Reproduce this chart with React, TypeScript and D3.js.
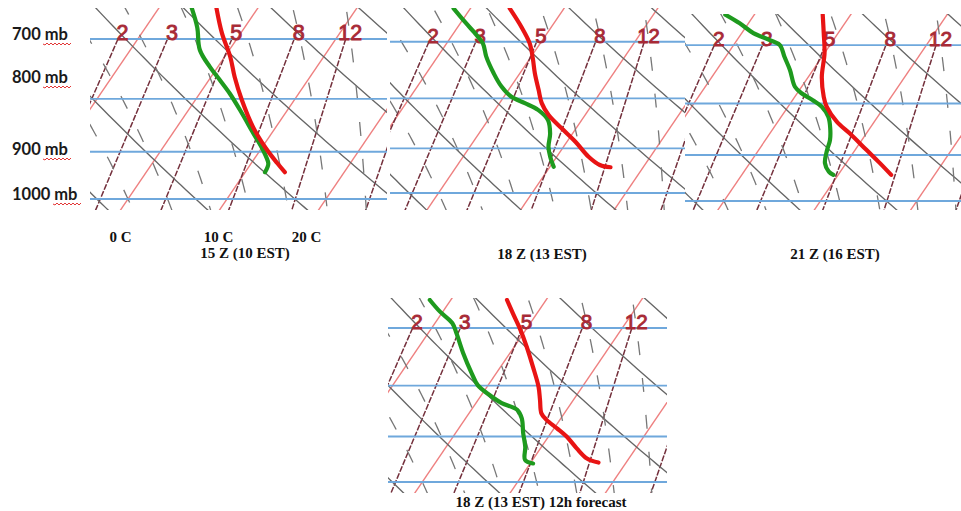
import React from "react";
import * as d3 from "d3";

// ---------- grid definitions (skew-T) ----------
const ISOBARS = [700, 800, 900, 1000];
const ISOTHERMS = [-50, -40, -30, -20, -10, 0, 10, 20, 30, 40, 50];
const DRY_THETA_K = [250, 260, 270, 280, 290, 300, 310, 320, 330, 340];
const MOIST_THETAW_C = [0, 4, 8, 12, 16, 20, 24, 28, 32, 36];
const MIX_LABELS = ["2", "3", "5", "8", "12", "20"];
const MIX_T700 = [-12.0, -7.0, -0.5, 5.8, 11.0, 19.0];
const MIX_T1000 = [-8.1, -2.8, 3.8, 10.6, 16.9, 24.4];
const MIX_SHOW = [true, true, true, true, true, false];

const P_LABELS = ["700 mb", "800 mb", "900 mb", "1000 mb"];
const T_LABELS = ["0 C", "10 C", "20 C"];
const T_LABEL_VALUES = [0, 10, 20];
const PANEL_TITLES = ["15 Z (10 EST)", "18 Z (13 EST)", "21 Z (16 EST)", "18 Z (13 EST) 12h forecast"];

// ---------- soundings (pressure mb, temperature C) ----------
const P1_T_P = [653, 691, 729, 762, 802, 852, 891, 923, 942];
const P1_T = [-4.2, -1.9, 0.6, 2.4, 4.7, 7.7, 10.3, 12.6, 14.0];
const P1_TD_P = [653, 682, 717, 745, 767, 790, 820, 863, 897, 923, 931, 942];
const P1_TD = [-6.7, -4.8, -3.0, -0.8, 1.1, 3.0, 5.2, 8.1, 10.3, 11.7, 11.9, 12.0];

const P2_T_P = [647, 676, 703, 728, 754, 784, 809, 832, 859, 886, 918, 936, 941];
const P2_T = [-5.8, -3.2, -1.1, 0.3, 1.6, 3.2, 4.5, 6.1, 8.5, 10.9, 13.4, 15.2, 16.5];
const P2_TD_P = [647, 668, 689, 703, 725, 754, 778, 797, 809, 822, 842, 869, 897, 918, 940];
const P2_TD = [-11.8, -9.6, -7.4, -6.1, -4.8, -2.8, -1.0, 0.8, 2.7, 4.6, 6.4, 7.6, 8.4, 9.3, 10.4];

const P3_T_P = [653, 681, 713, 753, 788, 806, 834, 857, 890, 917, 942];
const P3_T = [-2.9, -1.5, 0.0, 1.4, 3.0, 4.0, 6.1, 8.3, 11.2, 13.5, 15.5];
const P3_TD_P = [653, 666, 681, 692, 700, 719, 741, 770, 782, 794, 806, 825, 847, 870, 890, 917, 935, 942];
const P3_TD = [-13.0, -10.9, -8.8, -6.6, -5.2, -3.9, -2.4, -0.7, 0.5, 2.1, 3.5, 4.9, 5.9, 6.7, 7.1, 7.8, 8.8, 9.5];

const P4_T_P = [656, 677, 701, 731, 766, 802, 827, 853, 866, 883, 900, 925, 947, 956];
const P4_T = [-4.1, -2.5, -0.7, 1.3, 3.4, 5.4, 6.5, 7.6, 8.6, 10.3, 11.9, 13.8, 15.6, 17.1];
const P4_TD_P = [656, 674, 692, 709, 742, 777, 799, 818, 833, 846, 863, 893, 922, 950, 958];
const P4_TD = [-12.2, -10.3, -8.2, -7.0, -4.9, -2.6, -1.1, 0.9, 2.7, 4.8, 5.9, 7.1, 8.3, 9.2, 10.3];

// ---------- layout ----------
const SKEW = 0.68;
const PANELS = [
  { left: 90, top: 8, right: 387, bottom: 210, y1000: 199, y700: 39, x0: 128, s: 9.9, titleX: 245, titleY: 258 },
  { left: 390, top: 8, right: 685, bottom: 210, y1000: 193, y700: 41.8, x0: 438.5, s: 9.36, titleX: 542, titleY: 259 },
  { left: 685, top: 14, right: 961, bottom: 210, y1000: 201, y700: 45.1, x0: 724, s: 9.64, titleX: 835, titleY: 259 },
  { left: 388, top: 298, right: 667, bottom: 493, y1000: 482, y700: 328, x0: 422.3, s: 9.53, titleX: 541, titleY: 507 },
];
const SOUNDINGS = [
  { tp: P1_T_P, t: P1_T, dp: P1_TD_P, d: P1_TD },
  { tp: P2_T_P, t: P2_T, dp: P2_TD_P, d: P2_TD },
  { tp: P3_T_P, t: P3_T, dp: P3_TD_P, d: P3_TD },
  { tp: P4_T_P, t: P4_T, dp: P4_TD_P, d: P4_TD },
];
const P_LABEL_BASE = [40, 83, 155, 200];
const MB_UNDER = [[43, 70], [43, 70], [43, 70], [53, 80]];
const T_LABEL_DX = [0, -1, -12];

type Proj = (T: number, p: number) => [number, number];

function makeProj(pn: any): { proj: Proj; y: d3.ScaleLogarithmic<number, number> } {
  const y = d3.scaleLog().domain([1000, 700]).range([pn.y1000, pn.y700]);
  const x = d3.scaleLinear().domain([0, 10]).range([pn.x0, pn.x0 + 10 * pn.s]);
  const proj: Proj = (T, p) => {
    const yy = y(p);
    return [x(T) + SKEW * (pn.y1000 - yy), yy];
  };
  return { proj, y };
}

const P_SAMPLES = d3.range(560, 1121, 10);

function moistCurve(thetaW: number): [number, number][] {
  const Rd = 287.04, cp = 1005.7, Lv = 2.501e6, eps = 0.622;
  const f = (T: number, p: number) => {
    const es = 6.112 * Math.exp((17.67 * (T - 273.15)) / (T - 29.65));
    const rs = (eps * es) / (p - es);
    return (Rd * T + Lv * rs) / (p * (cp + (Lv * Lv * rs * eps) / (Rd * T * T)));
  };
  const integrate = (pEnd: number) => {
    const out: [number, number][] = [];
    let T = thetaW + 273.15;
    let p = 1000;
    const n = 60;
    const dp = (pEnd - 1000) / n;
    for (let i = 0; i <= n; i++) {
      out.push([T - 273.15, p]);
      const k1 = f(T, p);
      const k2 = f(T + k1 * dp, p + dp);
      T += (dp * (k1 + k2)) / 2;
      p += dp;
    }
    return out;
  };
  const up = integrate(560).reverse();
  const down = integrate(1120).slice(1);
  return up.concat(down);
}

function wavy(x1: number, x2: number, y: number) {
  let d = `M${x1},${y}`;
  let i = 0;
  for (let x = x1; x < x2; x += 2, i++) d += ` L${x + 2},${y + (i % 2 ? -1 : 1)}`;
  return d;
}

function Panel({ pn, idx }: { pn: any; idx: number }) {
  const { proj } = makeProj(pn);
  const line = d3.line<[number, number]>().x((d) => proj(d[0], d[1])[0]).y((d) => proj(d[0], d[1])[1]);
  const smooth = d3
    .line<[number, number]>()
    .x((d) => proj(d[0], d[1])[0])
    .y((d) => proj(d[0], d[1])[1])
    .curve(d3.curveCatmullRom.alpha(0.5));
  const k = pn.s / 9.9;
  const clipId = `clip${idx}`;
  const snd = SOUNDINGS[idx];
  const tData = snd.tp.map((p: number, i: number) => [snd.t[i], p] as [number, number]);
  const dData = snd.dp.map((p: number, i: number) => [snd.d[i], p] as [number, number]);

  const mixLine = (j: number) => {
    const ly = d3.scaleLinear().domain([Math.log(700), Math.log(1000)]).range([MIX_T700[j], MIX_T1000[j]]);
    return P_SAMPLES.filter((p) => p >= 700).map((p) => [ly(Math.log(p)), p] as [number, number]);
  };

  return (
    <g>
      <clipPath id={clipId}>
        <rect x={pn.left} y={pn.top} width={pn.right - pn.left} height={pn.bottom - pn.top} />
      </clipPath>
      <g clipPath={`url(#${clipId})`}>
        <rect x={pn.left} y={pn.top} width={pn.right - pn.left} height={pn.bottom - pn.top} fill="#ffffff" />
        {ISOTHERMS.map((T) => (
          <path key={"it" + T} d={line([[T, 560], [T, 1120]]) || ""} stroke="#ee8080" strokeWidth={1.4} fill="none" />
        ))}
        {MIX_LABELS.map((w, j) => (
          <path key={"mx" + w} d={line(mixLine(j)) || ""} stroke="#74303c" strokeWidth={1.5} strokeDasharray="6,1.5" fill="none" />
        ))}
        {DRY_THETA_K.map((th) => (
          <path
            key={"da" + th}
            d={line(P_SAMPLES.map((p) => [th * Math.pow(p / 1000, 0.2857) - 273.15, p] as [number, number])) || ""}
            stroke="#666666"
            strokeWidth={1.35}
            fill="none"
          />
        ))}
        {MOIST_THETAW_C.map((tw) => (
          <path key={"ma" + tw} d={line(moistCurve(tw)) || ""} stroke="#777777" strokeWidth={1.3} strokeDasharray="14,23" fill="none" />
        ))}
        {ISOBARS.map((p) => {
          const yy = proj(0, p)[1];
          return <line key={"ib" + p} x1={pn.left} x2={pn.right} y1={yy} y2={yy} stroke="#6fa8dc" strokeWidth={1.9} />;
        })}
        {MIX_LABELS.map((w, j) =>
          MIX_SHOW[j] ? (
            <text
              key={"ml" + w}
              x={proj(MIX_T700[j], 700)[0] + 4.5 * k}
              y={pn.y700 + 1}
              textAnchor="middle"
              fontFamily="Liberation Sans, Arial, sans-serif"
              fontSize={21.5 * k}
              fill="#a82a36"
              stroke="#a82a36"
              strokeWidth={0.9}
            >
              {w}
            </text>
          ) : null
        )}
        <path d={smooth(dData) || ""} stroke="#1e9a1e" strokeWidth={4.2} fill="none" strokeLinecap="round" strokeLinejoin="round" />
        <path d={smooth(tData) || ""} stroke="#e81414" strokeWidth={4.2} fill="none" strokeLinecap="round" strokeLinejoin="round" />
      </g>
      <text
        x={pn.titleX}
        y={pn.titleY}
        textAnchor="middle"
        fontFamily="Liberation Serif, Times New Roman, serif"
        fontWeight="bold"
        fontSize={15}
        fill="#111"
      >
        {PANEL_TITLES[idx]}
      </text>
    </g>
  );
}

export default function App() {
  const p1 = makeProj(PANELS[0]);
  return (
    <div style={{ position: "absolute", left: 0, top: 0, width: 961, height: 511, background: "#fff" }}>
      <svg width={961} height={511} viewBox="0 0 961 511" style={{ display: "block" }}>
        <rect x={0} y={0} width={961} height={511} fill="#ffffff" />
        {PANELS.map((pn, i) => (
          <Panel key={i} pn={pn} idx={i} />
        ))}
        {P_LABELS.map((t, i) => (
          <g key={t}>
            <text x={12} y={P_LABEL_BASE[i]} fontFamily="Lato, Open Sans, sans-serif" fontWeight="bold" fontSize={16.5} fill="#1a1a1a">
              {t}
            </text>
            <path d={wavy(MB_UNDER[i][0], MB_UNDER[i][1], P_LABEL_BASE[i] + 4)} stroke="#e02020" strokeWidth={0.9} fill="none" />
          </g>
        ))}
        {T_LABELS.map((t, i) => (
          <text
            key={t}
            x={p1.proj(T_LABEL_VALUES[i], p1.y.invert(PANELS[0].bottom))[0] + T_LABEL_DX[i]}
            y={242}
            textAnchor="middle"
            fontFamily="Liberation Serif, Times New Roman, serif"
            fontWeight="bold"
            fontSize={15}
            fill="#111"
          >
            {t}
          </text>
        ))}
      </svg>
    </div>
  );
}
